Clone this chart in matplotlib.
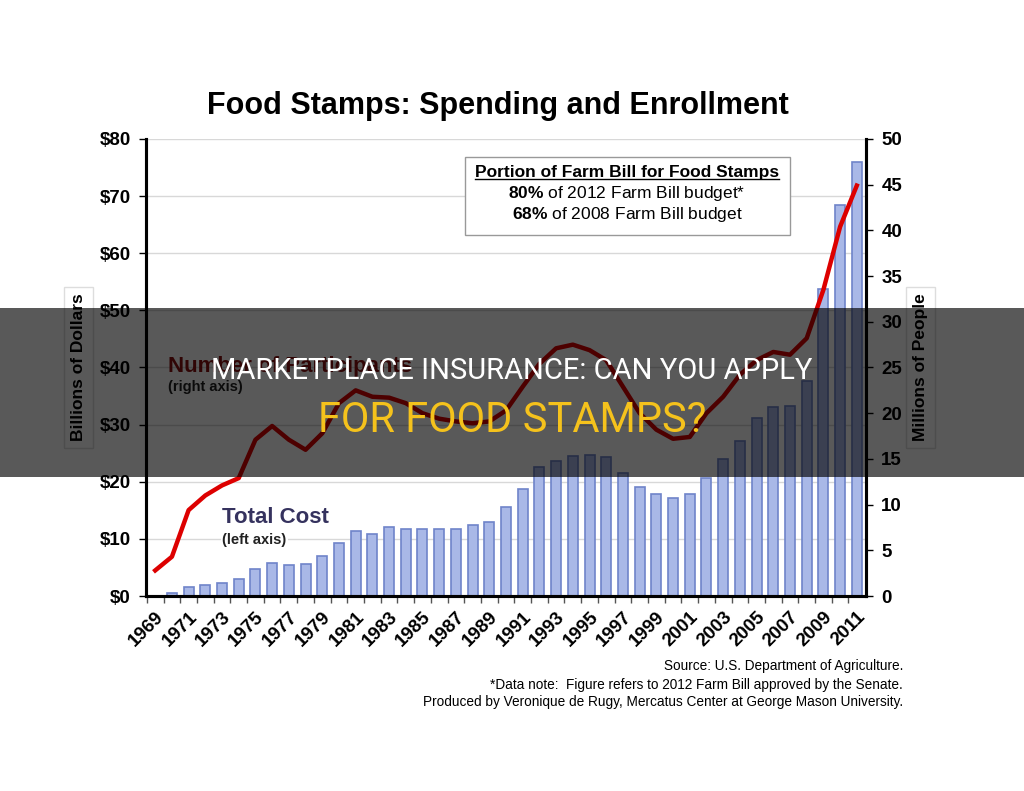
#!/usr/bin/env python3

import matplotlib
matplotlib.use('Agg')
import matplotlib.pyplot as plt
from matplotlib.patches import Rectangle
from matplotlib.ticker import FuncFormatter

plt.rcParams['font.family'] = ['Liberation Sans', 'DejaVu Sans']
plt.rcParams['mathtext.fontset'] = 'custom'
plt.rcParams['mathtext.bf'] = 'Liberation Sans:bold'
plt.rcParams['mathtext.rm'] = 'Liberation Sans'

years = list(range(1969, 2012))
# total cost, billions of dollars (left axis); 1969 has no visible bar
cost = [0.0, 0.6, 1.6, 1.9, 2.2, 2.9, 4.7, 5.7, 5.5, 5.6, 7.0,
        9.2, 11.3, 10.9, 12.0, 11.7, 11.8, 11.7, 11.7, 12.4, 13.0,
        15.5, 18.8, 22.5, 23.7, 24.5, 24.7, 24.4, 21.6, 19.0, 17.9,
        17.1, 17.8, 20.7, 23.9, 27.2, 31.1, 33.0, 33.3, 37.7, 53.7,
        68.5, 75.9]
# participants, millions of people (right axis)
participants = [2.8, 4.3, 9.4, 11.0, 12.1, 12.9, 17.1, 18.6, 17.1, 16.0, 17.8,
                21.1, 22.5, 21.8, 21.7, 21.1, 20.0, 19.4, 19.1, 18.9, 19.1,
                20.3, 22.9, 25.4, 27.1, 27.5, 26.9, 25.8, 22.9, 20.0, 18.2,
                17.2, 17.4, 20.0, 21.8, 24.2, 25.8, 26.7, 26.4, 28.2, 33.5,
                40.4, 44.9]
label_years = list(range(1969, 2012, 2))

BAR_FACE = '#a9b8e7'
BAR_EDGE = '#6f84c9'
LINE_RED = '#dd0000'
DARK_RED = '#8b1111'
NAVY = '#35325e'

fig = plt.figure(figsize=(10.24, 7.91), dpi=100)
ax = fig.add_axes([0.1426, 0.2465, 0.7031, 0.5778])
ax2 = ax.twinx()

ax.bar(years, cost, width=0.6, color=BAR_FACE, edgecolor=BAR_EDGE, linewidth=1.2, zorder=2)
ax.set_ylim(0, 80)
ax.set_xlim(1968.45, 2011.55)
ax.set_yticks(range(0, 81, 10))
ax.yaxis.set_major_formatter(FuncFormatter(lambda v, p: f'${v:.0f}'))
ax.grid(True, axis='y', color='#d8d8d8', linewidth=1, zorder=0)
ax.set_axisbelow(True)

ax2.plot(years, participants, color=LINE_RED, linewidth=3.2, zorder=3)
ax2.set_ylim(0, 50)
ax2.set_yticks(range(0, 51, 5))

ax.set_xticks(label_years)
ax.set_xticklabels([str(y) for y in label_years], rotation=45, ha='right',
                   rotation_mode='anchor', fontsize=13.5, fontweight='bold')
ax.set_xticks([y + 0.5 for y in years[:-1]] + [1968.5], minor=True)
ax.tick_params(axis='x', which='major', length=0, pad=9)
ax.tick_params(axis='x', which='minor', length=5, width=1, color='#555555')
ax.tick_params(axis='y', length=5, width=1, labelsize=13.5, pad=6)
ax2.tick_params(axis='y', length=5, width=1, labelsize=13.5, pad=6)
for lab in ax.get_yticklabels() + ax2.get_yticklabels():
    lab.set_fontweight('bold')

for a in (ax, ax2):
    a.spines['top'].set_visible(False)
    a.spines['left'].set_linewidth(2.2)
    a.spines['right'].set_linewidth(2.2)
    a.spines['bottom'].set_linewidth(2.2)

ax.set_ylabel('Billions of Dollars', fontsize=12.5, fontweight='bold', labelpad=10,
              bbox=dict(facecolor='white', edgecolor='#dddddd', pad=5))
ax2.set_ylabel('Millions of People', fontsize=12.5, fontweight='bold', labelpad=8,
               rotation=90, bbox=dict(facecolor='white', edgecolor='#dddddd', pad=5))

# series labels
ax.text(0.031, 0.503, 'Number of Participants', transform=ax.transAxes, fontsize=16,
        fontweight='bold', color=DARK_RED, va='center', zorder=4)
ax.text(0.031, 0.457, '(right axis)', transform=ax.transAxes, fontsize=10.5,
        fontweight='bold', color='#222222', va='center', zorder=4)
ax2.text(0.106, 0.171, 'Total Cost', transform=ax.transAxes, fontsize=16,
         fontweight='bold', color=NAVY, va='center', zorder=4,
         bbox=dict(facecolor='white', edgecolor='none', pad=1))
ax2.text(0.106, 0.123, '(left axis)', transform=ax.transAxes, fontsize=10.5,
         fontweight='bold', color='#222222', va='center', zorder=4,
         bbox=dict(facecolor='white', edgecolor='none', pad=1))

# farm bill box
ax2.add_patch(Rectangle((0.443, 0.79), 0.452, 0.171, transform=ax.transAxes,
                        facecolor='white', edgecolor='#999999', linewidth=1, zorder=5))
head = ax2.text(0.668, 0.926, 'Portion of Farm Bill for Food Stamps', transform=ax.transAxes,
                fontsize=12.5, fontweight='bold', ha='center', va='center', zorder=6)
ax2.text(0.668, 0.880, r'$\mathbf{80\%}$ of 2012 Farm Bill budget*', transform=ax.transAxes,
         fontsize=12.5, ha='center', va='center', zorder=6)
ax2.text(0.668, 0.834, r'$\mathbf{68\%}$ of 2008 Farm Bill budget', transform=ax.transAxes,
         fontsize=12.5, ha='center', va='center', zorder=6)
fig.canvas.draw()
bb = head.get_window_extent().transformed(ax.transAxes.inverted())
ax2.plot([bb.x0, bb.x1], [bb.y0 + 0.002, bb.y0 + 0.002], transform=ax.transAxes,
         color='black', linewidth=1, zorder=6)

fig.text(0.486, 0.866, 'Food Stamps: Spending and Enrollment', fontsize=22,
         fontweight='bold', ha='center', va='center')

notes = ['Source: U.S. Department of Agriculture.',
         '*Data note:  Figure refers to 2012 Farm Bill approved by the Senate.',
         'Produced by Veronique de Rugy, Mercatus Center at George Mason University.']
for txt, yy in zip(notes, [0.158, 0.134, 0.113]):
    fig.text(0.882, yy, txt, fontsize=9.8, ha='right', va='center',
             family=['Liberation Sans Narrow', 'Liberation Sans'])

# overlay banner
fig.add_artist(Rectangle((0, 0.397), 1, 0.214, transform=fig.transFigure,
                         facecolor='black', alpha=0.65, edgecolor='none', zorder=10))
fig.text(0.5, 0.531, 'MARKETPLACE INSURANCE: CAN YOU APPLY', fontsize=21,
         color='white', ha='center', va='center', zorder=11, family=['Roboto', 'DejaVu Sans'])
fig.text(0.5, 0.469, 'FOR FOOD STAMPS?', fontsize=30, color='#f5c21c',
         ha='center', va='center', zorder=11, family=['Roboto', 'DejaVu Sans'])

fig.savefig('out.png', dpi=100)
